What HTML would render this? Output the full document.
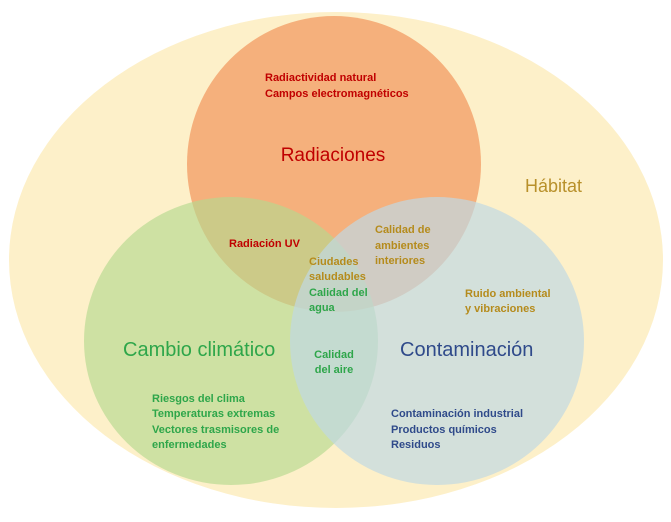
<!DOCTYPE html>
<html><head><meta charset="utf-8"><style>
html,body{margin:0;padding:0;background:#fff;}
svg text{font-family:"Liberation Sans",sans-serif;}
.s{font-size:11px;font-weight:bold;}
.b{font-size:19px;}
</style></head><body>
<svg width="671" height="517" viewBox="0 0 671 517" xmlns="http://www.w3.org/2000/svg">
<rect width="671" height="517" fill="#fff"/>
<ellipse cx="336" cy="260" rx="327" ry="248" fill="#fdf0c9"/>
<ellipse cx="334" cy="164" rx="147" ry="148" fill="#f5b07c"/>
<ellipse cx="231" cy="341" rx="147" ry="144" fill="#b5d88f" fill-opacity="0.65"/>
<ellipse cx="437" cy="341" rx="147" ry="144" fill="#c0d8e3" fill-opacity="0.7"/>

<g class="s" fill="#c00000">
<text x="265" y="81">Radiactividad natural</text>
<text x="265" y="97">Campos electromagnéticos</text>
<text x="229" y="247">Radiación UV</text>
</g>
<text x="333" y="161" text-anchor="middle" class="b" fill="#c00000">Radiaciones</text>
<text x="525" y="192" font-size="18" fill="#b8902a">Hábitat</text>

<g class="s" fill="#b58b1c">
<text x="375" y="233">Calidad de</text>
<text x="375" y="249">ambientes</text>
<text x="375" y="264">interiores</text>
<text x="309" y="265">Ciudades</text>
<text x="309" y="280">saludables</text>
<text x="465" y="297">Ruido ambiental</text>
<text x="465" y="312">y vibraciones</text>
</g>
<g class="s" fill="#2ea64a">
<text x="309" y="296">Calidad del</text>
<text x="309" y="311">agua</text>
<text x="334" y="358" text-anchor="middle">Calidad</text>
<text x="334" y="373" text-anchor="middle">del aire</text>
<text x="152" y="402">Riesgos del clima</text>
<text x="152" y="417">Temperaturas extremas</text>
<text x="152" y="433">Vectores trasmisores de</text>
<text x="152" y="448">enfermedades</text>
</g>
<text x="123" y="356" font-size="20" fill="#2ea64a">Cambio climático</text>
<text x="400" y="356" font-size="20" fill="#2f4a8a">Contaminación</text>
<g class="s" fill="#2f4a8a">
<text x="391" y="417">Contaminación industrial</text>
<text x="391" y="433">Productos químicos</text>
<text x="391" y="448">Residuos</text>
</g>
</svg>
</body></html>
